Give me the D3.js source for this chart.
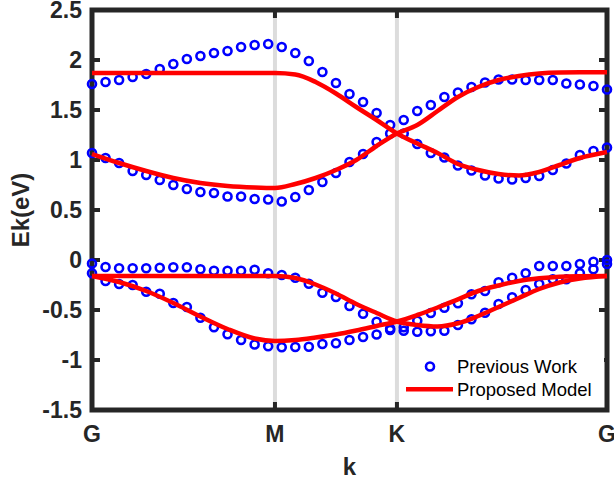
<!DOCTYPE html>
<html>
<head>
  <title>Band structure</title>
  <style type="text/css">
    body { margin: 0; background: #fff; }
    svg { display: block; font-family: "Liberation Sans", Arial, sans-serif; }
    .tick-label { font-weight: bold; font-size: 23px; fill: #262626; }
    .axis-label { font-weight: bold; font-size: 24px; fill: #262626; }
    .legend-text { font-size: 18.5px; fill: #000; }
  </style>
</head>
<body>
  <script type="text/javascript" src="https://cdnjs.cloudflare.com/ajax/libs/d3/7.8.5/d3.min.js"></script>
  <script type="text/javascript">
    // Path positions (sample index along G-M-K-G)
    var kTicks = [0, 13.5, 22.5, 38];
    var kTickLabels = ["G", "M", "K", "G"];
    var symLines = [13.5, 22.5];

    var yTicks = [-1.5, -1, -0.5, 0, 0.5, 1, 1.5, 2, 2.5];
    var yTickLabels = ["-1.5", "-1", "-0.5", "0", "0.5", "1", "1.5", "2", "2.5"];

    // Previous Work: 39 k-points per band
    var prevBand4 = [1.76, 1.78, 1.80, 1.83, 1.86, 1.91, 1.96, 2.01, 2.04, 2.07, 2.09, 2.13, 2.15, 2.16,
                     2.13, 2.07, 1.99, 1.88, 1.77, 1.66, 1.58, 1.47, 1.35, 1.40, 1.49, 1.55, 1.63, 1.675,
                     1.73, 1.775, 1.805, 1.805, 1.80, 1.80, 1.80, 1.765, 1.755, 1.74, 1.705];
    var prevBand3 = [1.07, 1.02, 0.97, 0.89, 0.85, 0.80, 0.75, 0.71, 0.68, 0.67, 0.635, 0.635, 0.61, 0.605,
                     0.585, 0.63, 0.70, 0.78, 0.87, 0.98, 1.06, 1.18, 1.265, 1.265, 1.16, 1.07, 1.025, 0.945,
                     0.895, 0.845, 0.815, 0.805, 0.82, 0.84, 0.90, 0.965, 1.05, 1.09, 1.125];
    var prevBand2 = [-0.035, -0.07, -0.083, -0.083, -0.083, -0.078, -0.073, -0.073, -0.093, -0.108, -0.108,
                     -0.108, -0.097, -0.133, -0.15, -0.178, -0.237, -0.327, -0.37, -0.46, -0.537, -0.617,
                     -0.685, -0.673, -0.607, -0.53, -0.477, -0.433, -0.343, -0.31, -0.223, -0.177, -0.133,
                     -0.06, -0.06, -0.06, -0.04, -0.017, 0.0];
    var prevBand1 = [-0.133, -0.21, -0.24, -0.25, -0.317, -0.337, -0.43, -0.47, -0.578, -0.672, -0.742,
                     -0.80, -0.845, -0.863, -0.873, -0.87, -0.867, -0.84, -0.833, -0.80, -0.77, -0.745,
                     -0.70, -0.707, -0.717, -0.712, -0.707, -0.65, -0.593, -0.527, -0.44, -0.373, -0.30,
                     -0.24, -0.193, -0.193, -0.133, -0.093, -0.04];

    // Proposed Model: sampled k positions and four curves
    var modelK = [0, 2, 4, 6, 8, 10, 12, 13.5, 15, 16.5, 18, 19.5, 21, 22.5, 24, 25.5, 27, 28.5, 30,
                  31.5, 33, 34.5, 36, 38];
    var modelA = [1.87, 1.87, 1.87, 1.87, 1.87, 1.87, 1.87, 1.87, 1.855, 1.78, 1.665, 1.53, 1.40, 1.265,
                  1.165, 1.07, 0.96, 0.90, 0.86, 0.845, 0.88, 0.95, 1.02, 1.08];
    var modelB = [1.06, 0.97, 0.89, 0.82, 0.77, 0.74, 0.725, 0.72, 0.76, 0.82, 0.90, 1.00, 1.14, 1.265,
                  1.35, 1.49, 1.63, 1.73, 1.80, 1.84, 1.865, 1.875, 1.877, 1.877];
    var modelC = [-0.16, -0.16, -0.16, -0.16, -0.16, -0.16, -0.16, -0.16, -0.18, -0.245, -0.335, -0.44,
                  -0.53, -0.615, -0.65, -0.665, -0.633, -0.56, -0.47, -0.38, -0.29, -0.225, -0.185, -0.16];
    var modelD = [-0.16, -0.22, -0.31, -0.43, -0.565, -0.69, -0.785, -0.81, -0.80, -0.775, -0.745, -0.705,
                  -0.66, -0.615, -0.55, -0.475, -0.393, -0.31, -0.255, -0.21, -0.183, -0.167, -0.162, -0.16];

    var w = 614, h = 484;
    var margin = {top: 10, right: 7, bottom: 74, left: 92};
    var axisColor = "#262626";

    var x = d3.scaleLinear().domain([0, 38]).range([margin.left, w - margin.right]);
    var y = d3.scaleLinear().domain([-1.5, 2.5]).range([h - margin.bottom, margin.top]);

    var svg = d3.select("body").append("svg")
      .attr("width", w)
      .attr("height", h);

    // symmetry point lines
    svg.selectAll("line.sym")
      .data(symLines)
      .enter().append("line")
      .attr("class", "sym")
      .attr("x1", d => x(d)).attr("x2", d => x(d))
      .attr("y1", y(2.5)).attr("y2", y(-1.5))
      .attr("stroke", "#dcdcdc")
      .attr("stroke-width", 4);

    // axes box + ticks
    var x0 = x(0), x1 = x(38), y0 = y(-1.5), y1 = y(2.5);
    svg.append("rect")
      .attr("x", x0).attr("y", y1)
      .attr("width", x1 - x0).attr("height", y0 - y1)
      .attr("fill", "none")
      .attr("stroke", axisColor)
      .attr("stroke-width", 5);

    var tickLen = 8;
    var yt = svg.append("g");
    yTicks.forEach(function(v) {
      yt.append("line").attr("x1", x0).attr("x2", x0 + tickLen)
        .attr("y1", y(v)).attr("y2", y(v));
      yt.append("line").attr("x1", x1).attr("x2", x1 - tickLen)
        .attr("y1", y(v)).attr("y2", y(v));
    });
    kTicks.forEach(function(v) {
      yt.append("line").attr("x1", x(v)).attr("x2", x(v))
        .attr("y1", y0).attr("y2", y0 - tickLen);
      yt.append("line").attr("x1", x(v)).attr("x2", x(v))
        .attr("y1", y1).attr("y2", y1 + tickLen);
    });
    yt.selectAll("line").attr("stroke", axisColor).attr("stroke-width", 4);

    svg.selectAll("text.ytick")
      .data(yTicks)
      .enter().append("text")
      .attr("class", "tick-label")
      .attr("x", x0 - 10)
      .attr("y", d => y(d))
      .attr("dy", "0.36em")
      .attr("text-anchor", "end")
      .text((d, i) => yTickLabels[i]);

    svg.selectAll("text.xtick")
      .data(kTicks)
      .enter().append("text")
      .attr("class", "tick-label")
      .attr("x", d => x(d))
      .attr("y", 442)
      .attr("text-anchor", "middle")
      .text((d, i) => kTickLabels[i]);

    svg.append("text")
      .attr("class", "axis-label")
      .attr("x", (x0 + x1) / 2)
      .attr("y", 475)
      .attr("text-anchor", "middle")
      .text("k");

    svg.append("text")
      .attr("class", "axis-label")
      .attr("transform", "translate(29," + ((y0 + y1) / 2) + ") rotate(-90)")
      .attr("text-anchor", "middle")
      .text("Ek(eV)");

    // Previous Work circles
    var prev = [prevBand1, prevBand2, prevBand3, prevBand4];
    var kIdx = d3.range(prevBand1.length);
    prev.forEach(function(band) {
      svg.append("g").selectAll("circle")
        .data(kIdx)
        .enter().append("circle")
        .attr("cx", d => x(d))
        .attr("cy", d => y(band[d]))
        .attr("r", 4)
        .attr("fill", "none")
        .attr("stroke", "#0000ff")
        .attr("stroke-width", 2.6);
    });

    // Proposed Model curves
    var line = d3.line()
      .x((d, i) => x(modelK[i]))
      .y(d => y(d))
      .curve(d3.curveMonotoneX);

    [modelA, modelB, modelC, modelD].forEach(function(curve) {
      svg.append("path")
        .attr("d", line(curve))
        .attr("fill", "none")
        .attr("stroke", "#ff0000")
        .attr("stroke-width", 4.5);
    });

    // legend
    var lg = svg.append("g");
    lg.append("rect")
      .attr("x", 402).attr("y", 352)
      .attr("width", 202).attr("height", 52)
      .attr("fill", "#fff");
    lg.append("circle")
      .attr("cx", 430).attr("cy", 366.5).attr("r", 4)
      .attr("fill", "none").attr("stroke", "#0000ff").attr("stroke-width", 2.6);
    lg.append("line")
      .attr("x1", 406).attr("x2", 453)
      .attr("y1", 389.3).attr("y2", 389.3)
      .attr("stroke", "#ff0000").attr("stroke-width", 4.5);
    lg.append("text").attr("class", "legend-text")
      .attr("x", 457).attr("y", 372.7).text("Previous Work");
    lg.append("text").attr("class", "legend-text")
      .attr("x", 457).attr("y", 395.7).text("Proposed Model");
  </script>
</body>
</html>
